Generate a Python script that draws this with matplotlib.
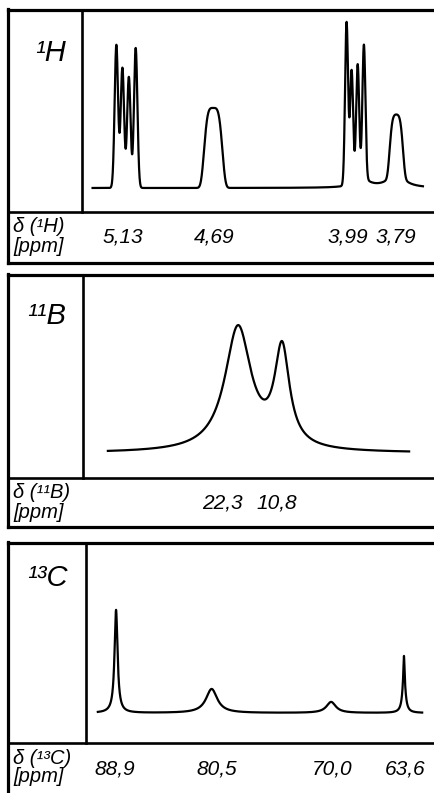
import numpy as np
import matplotlib
matplotlib.use('Agg')
import matplotlib.pyplot as plt
from matplotlib import transforms

# --- peak lists (ppm, intensity, width, shape) ---
# shape: 'g' gaussian (sigma), 'f' flat topped, 'l' lorentzian (half width)
h_ppm = [5.178, 5.148, 5.116, 5.082, 4.697, 4.035, 4.010, 3.980, 3.949, 3.960, 3.788, 3.788]
h_int = [143, 120, 111, 140, 80, 163, 113, 115, 133, 10, 58, 15]
h_wid = [0.0085, 0.0085, 0.0085, 0.0085, 0.049, 0.0075, 0.0075, 0.0075, 0.0075, 0.04, 0.036, 0.045]
h_kind = ['g', 'g', 'g', 'g', 'f', 'g', 'g', 'g', 'g', 'l', 'f', 'l']
h_range = (5.296, 3.656)
h_ticks = [5.13, 4.69, 3.99, 3.79]
h_ticklabels = ['5,13', '4,69', '3,99', '3,79']

b_ppm = [22.3, 10.8]
b_int = [124, 97.5]
b_wid = [4.18, 2.35]
b_kind = ['l', 'l']
b_range = (56.3, -22.4)
b_ticks = [22.3, 10.8]
b_ticklabels = ['22,3', '10,8']

c_ppm = [88.9, 80.5, 70.0, 63.6, 63.6]
c_int = [103, 24, 11, 35, 22]
c_wid = [0.16, 0.6, 0.5, 0.16, 0.05]
c_kind = ['l', 'l', 'l', 'l', 'l']
c_range = (90.5, 62.0)
c_ticks = [88.9, 80.5, 70.0, 63.6]
c_ticklabels = ['88,9', '80,5', '70,0', '63,6']

nuclei = ['\u00b9H', '\u00b9\u00b9B', '\u00b9\u00b3C']
delta_labels = ['\u03b4 (\u00b9H)', '\u03b4 (\u00b9\u00b9B)', '\u03b4 (\u00b9\u00b3C)']


def line_shape(x, c, h, w, kind):
    d = (x - c) / w
    if kind == 'g':
        return h * np.exp(-0.5 * d * d)
    if kind == 'f':
        return h * np.exp(-d ** 4)
    return h / (1 + d * d)


def spectrum(rng, ppm, inten, wid, kind):
    x = np.linspace(rng[0], rng[1], 6000)
    y = np.zeros_like(x)
    for c, h, w, k in zip(ppm, inten, wid, kind):
        y += line_shape(x, c, h, w, k)
    return x, y


W, H = 434, 793
fig = plt.figure(figsize=(W / 100, H / 100), dpi=100)
over = fig.add_axes([0, 0, 1, 1])
over.set_xlim(0, W)
over.set_ylim(H, 0)
over.axis('off')

sans = ['Liberation Sans', 'DejaVu Sans']

# layout in pixels: top, divider, bottom, vertical divider, baseline, ppm limits
layout = [
    dict(top=10, hdiv=212, bottom=263, vdiv=81.5, base=188, xlim=(5.351, 3.601),
         nuc=(50, 53), dy=(227, 247), ty=237, dx=[-3, 0, -8, 0]),
    dict(top=275, hdiv=478, bottom=527, vdiv=83, base=453, xlim=(62.8, -28.9),
         nuc=(47, 316), dy=(492, 512), ty=503, dx=[-16, -5]),
    dict(top=543, hdiv=743, bottom=800, vdiv=86, base=713, xlim=(91.54, 60.96),
         nuc=(47, 578), dy=(758, 777), ty=769, dx=[-1, 5, 1, 1]),
]
spectra = [
    spectrum(h_range, h_ppm, h_int, h_wid, h_kind),
    spectrum(b_range, b_ppm, b_int, b_wid, b_kind),
    spectrum(c_range, c_ppm, c_int, c_wid, c_kind),
]
ticks = [(h_ticks, h_ticklabels), (b_ticks, b_ticklabels), (c_ticks, c_ticklabels)]

for i, p in enumerate(layout):
    # frame of the panel
    over.plot([8, W + 5], [p['top'], p['top']], color='black', lw=2.3)
    over.plot([8, 8], [p['top'] - 1, p['bottom']], color='black', lw=2.3)
    over.plot([8, W + 5], [p['bottom'], p['bottom']], color='black', lw=2.3)
    over.plot([8, W + 5], [p['hdiv'], p['hdiv']], color='black', lw=1.9)
    over.plot([p['vdiv'], p['vdiv']], [p['top'], p['hdiv']], color='black', lw=1.9)

    ax = fig.add_axes([p['vdiv'] / W, 1 - p['hdiv'] / H,
                       (W - p['vdiv']) / W, (p['hdiv'] - p['top']) / H])
    ax.set_xlim(*p['xlim'])
    ax.set_ylim(-(p['hdiv'] - p['base']), p['base'] - p['top'])
    ax.axis('off')
    ax.patch.set_facecolor('none')
    x, y = spectra[i]
    ax.plot(x, y, color='black', lw=1.6, solid_joinstyle='round')

    over.text(p['nuc'][0], p['nuc'][1], nuclei[i], fontsize=21, style='italic',
              family=sans, ha='center', va='center')
    over.text(13, p['dy'][0], delta_labels[i], fontsize=14.5, style='italic',
              family=sans, ha='left', va='center')
    over.text(13, p['dy'][1], '[ppm]', fontsize=14.5, style='italic',
              family=sans, ha='left', va='center')

    trans = transforms.blended_transform_factory(ax.transData, over.transData)
    for t, lab, dx in zip(ticks[i][0], ticks[i][1], p['dx']):
        tr = transforms.offset_copy(trans, fig=fig, x=dx, units='dots')
        ax.text(t, p['ty'], lab, transform=tr, fontsize=15, style='italic',
                family=sans, ha='center', va='center', clip_on=False)

fig.savefig('out.png', dpi=100)
